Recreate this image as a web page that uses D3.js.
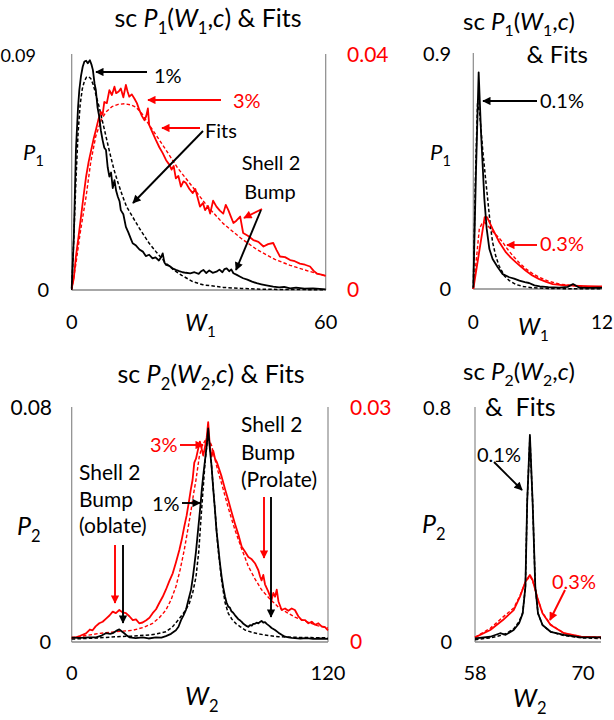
<!DOCTYPE html>
<html>
<head>
<meta charset="utf-8">
<script src="https://cdn.jsdelivr.net/npm/d3@7"></script>
<style>
  html, body { margin: 0; padding: 0; background: #fff; }
  svg { display: block; font-family: Lato, "Noto Sans", sans-serif; }
</style>
</head>
<body>
<script>
// ---------- data: [W, P] pairs ----------
// P1(W1) at 1% (black) and 3% (red), with fitted curves
const p1Black1 = [[0,0.0005],[0.5,0.02],[1,0.0536],[1.5,0.07],[1.8,0.0766],[2.2,0.082],[2.6,0.0855],[3.0,0.0875],[3.4,0.0878],[3.8,0.0868],[4.3,0.088],[4.7,0.0862],[5,0.0843],[5.4,0.079],[5.7,0.0766],[6.1,0.07],[6.5,0.0664],[6.9,0.061],[7.3,0.0574],[7.7,0.0545],[8.1,0.0536],[8.5,0.047],[8.9,0.0434],[9.3,0.045],[9.7,0.039],[10.1,0.0421],[10.5,0.038],[10.9,0.0357],[11.3,0.034],[11.6,0.0306],[12.2,0.029],[12.8,0.0242],[13.4,0.022],[14.0,0.0195],[14.4,0.0179],[15.2,0.017],[16,0.0155],[16.8,0.0147],[17.5,0.013],[18.3,0.0135],[19.1,0.0121],[19.8,0.0125],[20.6,0.0113],[21.1,0.0125],[21.5,0.014],[21.9,0.0105],[22.3,0.0096],[23.1,0.0092],[23.8,0.0083],[24.6,0.0077],[25.4,0.0072],[26.2,0.0068],[27,0.0066],[28,0.0064],[29,0.0068],[30,0.0062],[30.6,0.0072],[31.1,0.0077],[31.8,0.0065],[32.5,0.0075],[33.3,0.0066],[34.2,0.007],[34.9,0.0078],[35.6,0.0068],[36.1,0.008],[36.6,0.0083],[37.2,0.0072],[37.7,0.0079],[38.2,0.0064],[39,0.0058],[39.7,0.0052],[40.5,0.0045],[41.5,0.004],[42.6,0.0032],[43.7,0.0026],[44.8,0.0022],[46,0.0018],[47.6,0.0013],[49,0.001],[50.2,0.0012],[51.6,0.0006],[53,0.0009],[55,0.0005],[57,0.0006],[59.4,0.0003],[60,0.0002]];
const p1Black1Fit = [[0,0],[0.5,0.02],[1,0.042],[1.5,0.06],[2,0.071],[2.5,0.077],[3,0.08],[3.5,0.0815],[4,0.0817],[4.5,0.081],[5,0.079],[5.5,0.0762],[6,0.073],[6.5,0.07],[7,0.0665],[8,0.0595],[9,0.0525],[10,0.046],[10.5,0.0434],[11,0.0408],[12,0.036],[13,0.0318],[14.4,0.028],[16,0.0236],[18.3,0.0179],[20,0.0145],[22.3,0.0102],[24,0.0078],[26,0.0056],[28.6,0.0032],[31,0.002],[35.8,0.001],[40,0.0006],[45,0.0003],[50,0.0002],[60,0.0001]];
const p1Red3 = [[0,0.0003],[0.5,0.002],[1,0.0057],[1.6,0.009],[2.2,0.0125],[2.8,0.016],[3.4,0.0193],[4,0.0218],[4.6,0.0238],[5.2,0.0258],[5.7,0.0272],[6.3,0.029],[6.9,0.0303],[7.3,0.0298],[7.7,0.032],[8.3,0.0318],[8.9,0.034],[9.5,0.0332],[10.1,0.0346],[10.5,0.0335],[11.1,0.0338],[11.6,0.0343],[12.2,0.0328],[12.8,0.0349],[13.2,0.0338],[13.6,0.0329],[14.2,0.0333],[14.8,0.0326],[15.4,0.0318],[16,0.0306],[16.6,0.0296],[17.2,0.0289],[17.6,0.0296],[18,0.0309],[18.3,0.0281],[19.1,0.0268],[19.9,0.0255],[20.7,0.0243],[21.5,0.0233],[22.3,0.0221],[23.1,0.0213],[23.6,0.0205],[24.1,0.0211],[24.6,0.019],[25.2,0.0194],[25.8,0.0176],[26.4,0.0185],[27,0.0182],[27.8,0.0172],[28.6,0.0165],[29.2,0.0172],[30.3,0.0142],[31,0.0148],[31.5,0.0136],[32.2,0.0143],[32.7,0.013],[33.4,0.0152],[34.2,0.0142],[35,0.0135],[35.8,0.013],[36.4,0.0145],[37,0.0136],[37.6,0.0125],[38.2,0.0114],[38.9,0.0118],[39.8,0.0125],[40.5,0.0097],[41.7,0.0092],[42.9,0.0085],[44.1,0.0082],[45.3,0.0074],[46.4,0.0078],[47.6,0.008],[48.4,0.0068],[49.2,0.0057],[50.4,0.0056],[51.6,0.0051],[52.7,0.0049],[53.9,0.0045],[55.1,0.0043],[56.3,0.004],[57.1,0.0033],[57.9,0.0028],[59,0.0026],[60,0.0024]];
const p1Red3Fit = [[0,0],[1,0.0045],[2,0.0097],[3.4,0.0159],[4.5,0.0218],[5.7,0.0262],[7,0.029],[8.1,0.0303],[9.5,0.0312],[11,0.0316],[12.5,0.0317],[14,0.0315],[15.2,0.0311],[16.5,0.0301],[18.3,0.0281],[20,0.0263],[22.3,0.0238],[25,0.0208],[28.6,0.0175],[32,0.0143],[35.8,0.0113],[40,0.0088],[43.7,0.0069],[48,0.0052],[51.6,0.0042],[56,0.0032],[60,0.0024]];

// P1(W1) at 0.1% (black) and 0.3% (red)
const p1Black01 = [[0,0.005],[0.25,0.45],[0.5,0.83],[0.72,0.6],[1.03,0.345],[1.25,0.23],[1.5,0.153],[1.8,0.115],[2.28,0.083],[2.74,0.057],[3.36,0.045],[3.8,0.04],[4.3,0.032],[4.8,0.026],[5.2,0.023],[5.7,0.014],[6.2,0.01],[7,0.007],[8,0.005],[8.8,0.008],[9.3,0.019],[9.9,0.005],[10.8,0.004],[11.7,0.005],[12,0.004]];
const p1Black01Fit = [[0,0],[0.19,0.41],[0.4,0.72],[0.6,0.67],[0.87,0.536],[1.1,0.44],[1.34,0.345],[1.6,0.24],[1.8,0.179],[2.1,0.125],[2.4,0.089],[2.9,0.05],[3.36,0.032],[4,0.017],[4.6,0.01],[5.5,0.005],[7,0.002],[9,0.001],[12,0.0005]];
const p1Red03 = [[0,0],[0.5,0.13],[1.06,0.275],[1.28,0.275],[1.8,0.23],[2.43,0.179],[3.05,0.14],[3.5,0.12],[3.98,0.102],[4.4,0.087],[4.9,0.07],[5.5,0.052],[6.15,0.038],[6.8,0.027],[7.4,0.019],[8.3,0.015],[9.3,0.013],[10.5,0.011],[11.7,0.01],[12,0.01]];
const p1Red03Fit = [[0,0],[0.3,0.12],[0.56,0.23],[0.8,0.25],[1.06,0.255],[1.4,0.24],[1.8,0.22],[2.3,0.2],[2.74,0.179],[3.2,0.152],[3.67,0.128],[4.3,0.1],[4.9,0.077],[5.5,0.06],[6.15,0.045],[7,0.03],[8,0.019],[9.5,0.012],[11,0.008],[12,0.007]];

// P2(W2) at 1% (black) and 3% (red)
const p2Black1 = [[0,0.0015],[4,0.0014],[8,0.0016],[11.4,0.0016],[14,0.0022],[16,0.003],[18,0.0028],[19.2,0.003],[20.8,0.0038],[22.3,0.0043],[23.5,0.0036],[24.6,0.003],[26,0.0021],[27,0.0016],[30,0.0013],[33.2,0.0016],[36,0.0012],[39.4,0.0016],[42,0.0015],[44.1,0.002],[46.5,0.0028],[48.8,0.004],[50,0.0052],[51.2,0.0075],[52.3,0.009],[53.5,0.011],[54.7,0.0145],[55.9,0.018],[56.7,0.022],[57.4,0.026],[58.2,0.031],[59,0.037],[59.8,0.043],[60.5,0.0485],[60.9,0.052],[61.6,0.057],[62.4,0.062],[63.2,0.067],[63.9,0.073],[64.7,0.066],[65.5,0.06],[66.3,0.052],[67.1,0.045],[67.8,0.038],[68.6,0.0326],[69.4,0.027],[70.2,0.0223],[71,0.0185],[71.8,0.0155],[72.5,0.0135],[73.3,0.0121],[74,0.0118],[74.8,0.0105],[75.6,0.01],[76.4,0.0092],[77.2,0.0085],[78,0.0078],[78.8,0.0074],[79.6,0.0069],[80.4,0.0062],[81.2,0.0058],[82,0.0054],[82.7,0.0052],[83.5,0.0058],[84.3,0.0056],[85,0.0062],[85.8,0.0062],[86.6,0.0066],[87.4,0.0064],[88.1,0.0068],[88.9,0.0072],[89.7,0.0066],[90.5,0.0068],[91.3,0.0062],[92.5,0.0055],[93.6,0.0048],[95.2,0.0041],[96.8,0.0032],[98.3,0.0025],[99.9,0.0018],[101.5,0.0016],[103,0.0014],[104.5,0.0013],[107,0.0012],[110,0.0013],[113,0.0011],[116,0.0012],[120,0.0011]];
const p2Black1Fit = [[0,0.001],[10,0.0013],[20.7,0.0018],[28,0.002],[36.3,0.0024],[40,0.0028],[44.1,0.0035],[47,0.005],[50.4,0.008],[53,0.0105],[55,0.0131],[56.7,0.017],[58.2,0.0223],[59.5,0.031],[60.5,0.042],[61.5,0.052],[62.5,0.062],[63.5,0.069],[64.2,0.0705],[65,0.065],[66,0.055],[67.1,0.045],[68.5,0.032],[70.2,0.021],[71.8,0.0135],[73.3,0.0098],[75,0.0078],[77,0.0062],[79,0.0052],[81.1,0.0041],[84,0.0034],[88,0.0027],[92,0.0022],[96.8,0.0018],[104,0.0016],[112,0.0015],[120,0.0014]];
const p2Red3 = [[0,0.0006],[2,0.0006],[4,0.0008],[6.7,0.0011],[8.5,0.0016],[9.8,0.0015],[11.2,0.002],[12.9,0.0024],[14.5,0.0026],[16.1,0.003],[17.7,0.0034],[19.2,0.0039],[20.7,0.0037],[22.3,0.0041],[23.8,0.0038],[25.4,0.0037],[27,0.0033],[28.6,0.0028],[30.1,0.0029],[31.6,0.0024],[33.2,0.0025],[34.9,0.0028],[36.4,0.0031],[37.9,0.0037],[39.5,0.0042],[41,0.005],[42.6,0.0058],[44.1,0.0067],[45.7,0.0078],[47.3,0.0088],[48.8,0.0102],[50.4,0.0118],[51.5,0.0131],[52.7,0.0148],[53.8,0.0162],[55,0.0182],[55.8,0.0196],[56.6,0.0208],[57.4,0.023],[58.2,0.0235],[59,0.0245],[60,0.0257],[60.8,0.0248],[61.6,0.0239],[62.4,0.025],[63.2,0.0262],[63.9,0.0282],[64.7,0.025],[65.5,0.0238],[66.3,0.0245],[67.1,0.0235],[67.9,0.0231],[69,0.0222],[70.2,0.0212],[71.8,0.0196],[73.3,0.0182],[74.9,0.0166],[76.4,0.0152],[78,0.0138],[79.6,0.0122],[81.1,0.0116],[82.7,0.0109],[84.3,0.0106],[85.8,0.0101],[87.4,0.0092],[88.2,0.0084],[88.9,0.0079],[89.7,0.0086],[90.5,0.0074],[92,0.0065],[93.6,0.0054],[94.4,0.0063],[95.2,0.0058],[96,0.0067],[96.8,0.0052],[98.3,0.0041],[99.9,0.0043],[101.4,0.004],[103,0.0043],[104.5,0.0041],[106.1,0.0033],[107.7,0.0028],[109.3,0.0028],[110.8,0.0024],[112.4,0.0026],[114,0.0022],[115.5,0.0024],[117,0.002],[118.6,0.0019],[120,0.0015]];
const p2Red3Fit = [[0,0.0005],[6,0.0008],[12.9,0.0011],[20,0.0013],[28.6,0.0015],[34,0.0019],[37.9,0.0024],[41,0.0031],[44.1,0.0041],[46.5,0.0054],[48.8,0.0071],[50.8,0.0093],[52.7,0.0118],[54.3,0.0143],[55.9,0.0169],[57,0.0189],[58.2,0.0208],[59.7,0.0237],[61,0.0251],[62.4,0.0258],[63.5,0.0261],[64.5,0.0258],[65.5,0.0252],[67,0.0235],[68.5,0.0219],[70.2,0.0203],[73.3,0.0172],[76.4,0.0144],[79.5,0.012],[82.7,0.0097],[85.8,0.0081],[88.9,0.0067],[92.8,0.0055],[96.7,0.0045],[100.6,0.0038],[104.5,0.0032],[110,0.0026],[115,0.0021],[120,0.0018]];

// P2(W2) at 0.1% (black) and 0.3% (red)
const p2Black01 = [[58,0.0126],[59.7,0.018],[60.8,0.03],[61.4,0.0245],[62.3,0.041],[62.9,0.064],[63.3,0.098],[63.6,0.189],[63.8,0.48],[64.1,0.708],[64.4,0.48],[64.7,0.189],[65,0.098],[65.5,0.058],[66.4,0.035],[67.9,0.024],[69.8,0.016],[72,0.016]];
const p2Black01Fit = [[58,0.008],[59.7,0.014],[60.8,0.022],[61.4,0.028],[62.3,0.045],[62.9,0.07],[63.3,0.1],[63.6,0.189],[63.8,0.48],[64.1,0.7],[64.4,0.48],[64.7,0.189],[65,0.098],[65.5,0.058],[66.4,0.035],[67.9,0.022],[69.8,0.014],[72,0.012]];
const p2Red03 = [[58,0.016],[59.7,0.041],[61.1,0.075],[62.3,0.109],[63,0.155],[63.6,0.206],[64.1,0.229],[64.4,0.212],[65,0.144],[65.5,0.098],[66.4,0.058],[67.9,0.03],[69.8,0.018],[72,0.016]];
const p2Red03Fit = [[58,0.016],[59.7,0.047],[61.1,0.085],[62.3,0.116],[63,0.158],[63.6,0.205],[64.1,0.225],[64.4,0.21],[65,0.145],[65.5,0.1],[66.4,0.06],[67.9,0.03],[69.8,0.018],[72,0.016]];

// axis tick labels
const p1LowXTicks = [0, 60], p1LowYTicks = ["0", "0.09"], p1LowRedTicks = ["0", "0.04"];
const p1TinyXTicks = [0, 12], p1TinyYTicks = ["0", "0.9"];
const p2LowXTicks = [0, 120], p2LowYTicks = ["0", "0.08"], p2LowRedTicks = ["0", "0.03"];
const p2TinyXTicks = [58, 70], p2TinyYTicks = ["0", "0.8"];

// ---------- drawing ----------
const RED = "#ff0000", GREY = "#8a8a8a";
const svg = d3.select("body").append("svg").attr("width", 614).attr("height", 720);
svg.append("rect").attr("width", 614).attr("height", 720).attr("fill", "#fff");

const defs = svg.append("defs");
[["black", "#000"], ["red", RED]].forEach(([id, c]) => {
  defs.append("marker").attr("id", "head-" + id)
    .attr("viewBox", "0 0 10 10").attr("refX", 9).attr("refY", 5)
    .attr("markerWidth", 4.8).attr("markerHeight", 4.4).attr("markerUnits", "strokeWidth")
    .attr("orient", "auto")
    .append("path").attr("d", "M0,0 L10,5 L0,10 z").attr("fill", c);
});

// rich text: {..} italic, [..] subscript
function rich(x, y, str, size, opts = {}) {
  const t = svg.append("text").attr("x", x).attr("y", y)
    .attr("font-size", size).attr("fill", opts.color || "#000")
    .attr("text-anchor", opts.anchor || "start");
  const re = /\{([^}]*)\}|\[([^\]]*)\]|([^{[]+)/g;
  let m, shifted = false;
  const sh = size * 0.26;
  while ((m = re.exec(str))) {
    const s = t.append("tspan").attr("xml:space", "preserve");
    if (m[2] !== undefined) {
      s.text(m[2]).attr("font-size", size * 0.66).attr("dy", shifted ? 0 : sh);
      shifted = true;
    } else {
      if (shifted) { s.attr("dy", -sh); shifted = false; }
      s.text(m[1] !== undefined ? m[1] : m[3]);
      if (m[1] !== undefined) s.attr("font-style", "italic");
    }
  }
  return t;
}

function arrow(x1, y1, x2, y2, color) {
  svg.append("line").attr("x1", x1).attr("y1", y1).attr("x2", x2).attr("y2", y2)
    .attr("stroke", color).attr("stroke-width", 1.9)
    .attr("marker-end", `url(#head-${color === RED ? "red" : "black"})`);
}

function panel(cfg) {
  const x = d3.scaleLinear().domain(cfg.xDomain).range([cfg.left, cfg.right]);
  const y = d3.scaleLinear().domain(cfg.yDomain).range([cfg.bottom, cfg.top]);
  const y2 = cfg.y2Domain ? d3.scaleLinear().domain(cfg.y2Domain).range([cfg.bottom, cfg.top]) : y;
  const g = svg.append("g");
  // frame lines
  g.append("line").attr("x1", cfg.left).attr("x2", cfg.left).attr("y1", cfg.top - 1).attr("y2", cfg.bottom)
    .attr("stroke", GREY).attr("stroke-width", 1.2);
  g.append("line").attr("x1", cfg.left).attr("x2", cfg.right).attr("y1", cfg.bottom).attr("y2", cfg.bottom)
    .attr("stroke", GREY).attr("stroke-width", 1.6);
  if (cfg.rightLine) g.append("line").attr("x1", cfg.right).attr("x2", cfg.right).attr("y1", cfg.top - 1).attr("y2", cfg.bottom)
    .attr("stroke", GREY).attr("stroke-width", 1.2);

  const series = [
    { d: cfg.redFit, s: y2, c: RED, dash: "3.5,2.2", w: 1.4 },
    { d: cfg.blackFit, s: y, c: "#000", dash: "3.5,2.2", w: 1.5 },
    { d: cfg.red, s: y2, c: RED, dash: null, w: 1.8 },
    { d: cfg.black, s: y, c: "#000", dash: null, w: 1.8 },
  ];
  series.forEach(o => {
    const line = d3.line().x(d => x(d[0])).y(d => o.s(d[1]));
    g.append("path").datum(o.d).attr("d", line).attr("fill", "none")
      .attr("stroke", o.c).attr("stroke-width", o.w).attr("stroke-linejoin", "round")
      .attr("stroke-dasharray", o.dash);
  });

  // tick labels
  cfg.xTicks.forEach(v => rich(x(v), cfg.xTickY, String(v), cfg.xTickSize, { anchor: "middle" }));
  cfg.yTicks.forEach((lab, i) => {
    const v = cfg.yDomain[i];
    rich(cfg.yTickX[i], y(v) + 7, lab, cfg.yTickSize[i], { anchor: "end" });
  });
  if (cfg.redTicks) cfg.redTicks.forEach((lab, i) => {
    rich(cfg.redTickX, y2(cfg.y2Domain[i]) + 7, lab, 21, { color: RED });
  });
  return { x, y, y2 };
}

// top left: P1 at 1% and 3%
panel({
  left: 71.7, right: 325.7, top: 55, bottom: 290,
  xDomain: [0, 60], yDomain: [0, 0.09], y2Domain: [0, 0.04], rightLine: true,
  black: p1Black1, blackFit: p1Black1Fit, red: p1Red3, redFit: p1Red3Fit,
  xTicks: p1LowXTicks, xTickY: 329, xTickSize: 20,
  yTicks: p1LowYTicks, yTickX: [49, 36], yTickSize: [20, 18],
  redTicks: p1LowRedTicks, redTickX: 347
});
// top right: P1 at 0.1% and 0.3%
panel({
  left: 473.3, right: 602, top: 54, bottom: 289,
  xDomain: [0, 12], yDomain: [0, 0.9],
  black: p1Black01, blackFit: p1Black01Fit, red: p1Red03, redFit: p1Red03Fit,
  xTicks: p1TinyXTicks, xTickY: 329, xTickSize: 19,
  yTicks: p1TinyYTicks, yTickX: [451, 451], yTickSize: [20, 20]
});
// bottom left: P2 at 1% and 3%
panel({
  left: 71.7, right: 328, top: 408, bottom: 642,
  xDomain: [0, 120], yDomain: [0, 0.08], y2Domain: [0, 0.03], rightLine: true,
  black: p2Black1, blackFit: p2Black1Fit, red: p2Red3, redFit: p2Red3Fit,
  xTicks: p2LowXTicks, xTickY: 680, xTickSize: 20,
  yTicks: p2LowYTicks, yTickX: [51, 52], yTickSize: [20, 21],
  redTicks: p2LowRedTicks, redTickX: 350
});
// bottom right: P2 at 0.1% and 0.3%
panel({
  left: 475, right: 601, top: 408, bottom: 642,
  xDomain: [58, 72], yDomain: [0, 0.8],
  black: p2Black01, blackFit: p2Black01Fit, red: p2Red03, redFit: p2Red03Fit,
  xTicks: p2TinyXTicks, xTickY: 680, xTickSize: 20,
  yTicks: p2TinyYTicks, yTickX: [452, 451], yTickSize: [20, 20]
});

// titles
rich(208, 27, "sc {P}[1]({W}[1],{c}) & Fits", 25, { anchor: "middle" });
rich(519, 30, "sc {P}[1]({W}[1],{c})", 24, { anchor: "middle" });
rich(588, 63, "& Fits", 24, { anchor: "end" });
rich(211, 383, "sc {P}[2]({W}[2],{c}) & Fits", 25, { anchor: "middle" });
rich(519, 380, "sc {P}[2]({W}[2],{c})", 24, { anchor: "middle" });
rich(485, 416, "&  Fits", 25);

// axis names
rich(23, 160, "{P}[1]", 22);
rich(185, 331, "{W}[1]", 23);
rich(430, 160, "{P}[1]", 22);
rich(518, 335, "{W}[1]", 23);
rich(17, 535, "{P}[2]", 25);
rich(185, 705, "{W}[2]", 25);
rich(422, 533, "{P}[2]", 25);
rich(513, 707, "{W}[2]", 25);

// annotations, top left
rich(154, 83, "1%", 20);
arrow(147, 72, 96, 72, "#000");
rich(233, 108, "3%", 20, { color: RED });
arrow(221, 100, 148, 100, RED);
rich(205, 138, "Fits", 20);
arrow(200, 128, 162, 128, RED);
arrow(203, 131, 133, 203, "#000");
rich(271, 170, "Shell 2", 20, { anchor: "middle" });
rich(270, 199, "Bump", 20, { anchor: "middle" });
arrow(262, 209, 244, 218, RED);
arrow(261, 210, 236, 270, "#000");

// annotations, top right
rich(540, 108, "0.1%", 20);
arrow(537, 101, 483, 101, "#000");
rich(540, 251, "0.3%", 20, { color: RED });
arrow(537, 245, 507, 245, RED);

// annotations, bottom left
rich(150, 452, "3%", 20, { color: RED });
arrow(180, 445, 203, 445, RED);
rich(152, 511, "1%", 20);
arrow(182, 503, 200, 503, "#000");
rich(79, 480, "Shell 2", 21);
rich(79, 507, "Bump", 21);
rich(79, 533, "(oblate)", 21);
arrow(115, 545, 115, 603, RED);
arrow(123, 545, 123, 623, "#000");
rich(241, 432, "Shell 2", 21);
rich(241, 460, "Bump", 21);
rich(241, 487, "(Prolate)", 21);
arrow(264, 497, 264, 558, RED);
arrow(271, 497, 271, 617, "#000");

// annotations, bottom right
rich(477, 462, "0.1%", 20);
arrow(494, 462, 522, 490, "#000");
rich(552, 589, "0.3%", 20, { color: RED });
arrow(565, 590, 550, 620, RED);
</script>
</body>
</html>
